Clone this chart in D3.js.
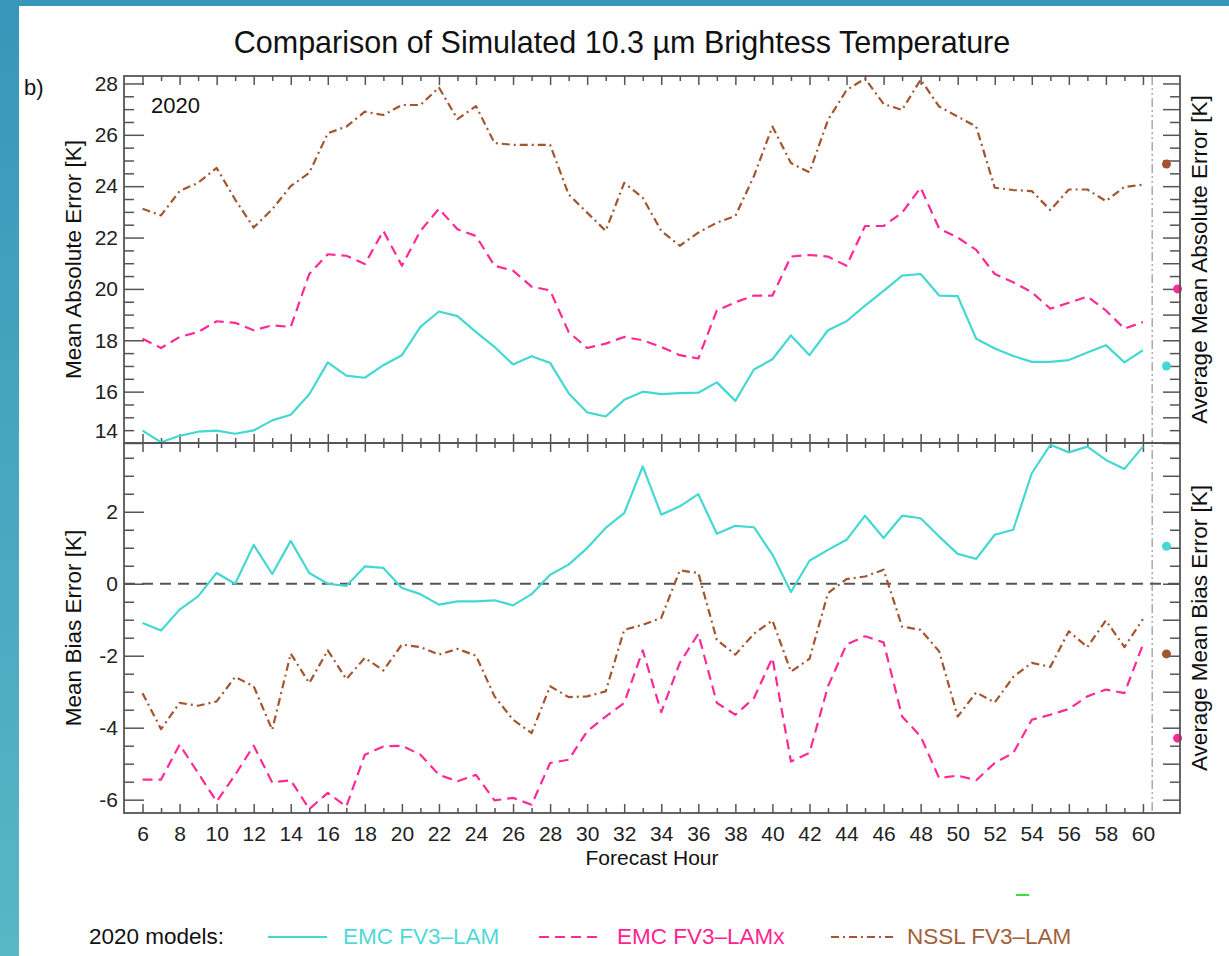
<!DOCTYPE html>
<html>
<head>
<meta charset="utf-8">
<title>Comparison of Simulated 10.3 µm Brightess Temperature</title>
<script src="https://cdn.jsdelivr.net/npm/d3@7"></script>
<style>
  body { margin: 0; background: #fff; }
  svg { display: block; font-family: 'Liberation Sans', Arial, Helvetica, sans-serif; }
</style>
</head>
<body>
<div id="chart"></div>
<script>
'use strict';

// forecast hours on the x axis
var hours = [ 6, 7, 8, 9, 10, 11, 12, 13, 14, 15, 16, 17, 18, 19, 20, 21, 22, 23, 24, 25,
  26, 27, 28, 29, 30, 31, 32, 33, 34, 35, 36, 37, 38, 39, 40, 41, 42, 43, 44, 45,
  46, 47, 48, 49, 50, 51, 52, 53, 54, 55, 56, 57, 58, 59, 60 ];
var hourTicks = [ 6, 8, 10, 12, 14, 16, 18, 20, 22, 24, 26, 28, 30, 32, 34, 36, 38, 40,
  42, 44, 46, 48, 50, 52, 54, 56, 58, 60 ];
var maeTicks = [ 14, 16, 18, 20, 22, 24, 26, 28 ];
var mbeTicks = [ -6, -4, -2, 0, 2 ];

var modelNames = [ 'EMC FV3\u2013LAM', 'EMC FV3\u2013LAMx', 'NSSL FV3\u2013LAM' ];

// mean absolute error [K]
var maeEmc = [ 14.48, 14.03, 14.28, 14.44, 14.48, 14.36, 14.49, 14.88, 15.10, 15.90,
  17.14, 16.62, 16.54, 17.03, 17.42, 18.52, 19.12, 18.94, 18.32, 17.74,
  17.06, 17.38, 17.12, 15.94, 15.19, 15.03, 15.68, 16.00, 15.90, 15.94,
  15.96, 16.36, 15.64, 16.86, 17.26, 18.19, 17.42, 18.39, 18.74, 19.35,
  19.92, 20.52, 20.58, 19.74, 19.72, 18.06, 17.68, 17.39, 17.16, 17.16,
  17.23, 17.52, 17.81, 17.14, 17.61 ];
var maeEmcx = [ 18.06, 17.70, 18.13, 18.32, 18.74, 18.68, 18.39, 18.58, 18.52, 20.58,
  21.35, 21.29, 20.97, 22.26, 20.90, 22.26, 23.12, 22.32, 22.06, 20.90,
  20.71, 20.09, 19.94, 18.32, 17.70, 17.87, 18.13, 18.00, 17.74, 17.42,
  17.29, 19.16, 19.48, 19.74, 19.74, 21.26, 21.32, 21.26, 20.90, 22.45,
  22.45, 22.97, 23.94, 22.35, 22.00, 21.52, 20.58, 20.26, 19.87, 19.23,
  19.46, 19.70, 19.16, 18.45, 18.71 ];
var maeNssl = [ 23.12, 22.86, 23.81, 24.13, 24.71, 23.48, 22.39, 23.10, 24.00, 24.52,
  26.06, 26.32, 26.90, 26.77, 27.16, 27.16, 27.84, 26.61, 27.12, 25.68,
  25.61, 25.61, 25.61, 23.68, 22.97, 22.26, 24.13, 23.55, 22.26, 21.68,
  22.19, 22.58, 22.84, 24.39, 26.32, 24.90, 24.54, 26.58, 27.74, 28.19,
  27.20, 26.97, 28.15, 27.10, 26.71, 26.32, 23.94, 23.85, 23.81, 23.07,
  23.87, 23.87, 23.42, 23.97, 24.06 ];

// mean bias error [K]
var mbeEmc = [ -1.09, -1.30, -0.72, -0.35, 0.30, 0.00, 1.08, 0.27, 1.19, 0.30,
  0.00, -0.06, 0.48, 0.44, -0.12, -0.29, -0.58, -0.49, -0.49, -0.46,
  -0.60, -0.29, 0.25, 0.53, 0.99, 1.55, 1.96, 3.26, 1.92, 2.15,
  2.49, 1.39, 1.61, 1.57, 0.81, -0.23, 0.64, 0.94, 1.22, 1.89,
  1.27, 1.89, 1.82, 1.31, 0.83, 0.69, 1.36, 1.50, 3.07, 3.86,
  3.65, 3.81, 3.44, 3.19, 3.81 ];
var mbeEmcx = [ -5.44, -5.44, -4.47, -5.26, -6.05, -5.31, -4.50, -5.52, -5.46, -6.26,
  -5.81, -6.19, -4.75, -4.52, -4.50, -4.75, -5.31, -5.49, -5.31, -6.02,
  -5.95, -6.14, -4.98, -4.89, -4.10, -3.69, -3.31, -1.85, -3.57, -2.20,
  -1.39, -3.31, -3.64, -3.18, -2.06, -4.94, -4.70, -2.85, -1.69, -1.46,
  -1.63, -3.69, -4.24, -5.40, -5.33, -5.46, -4.98, -4.70, -3.78, -3.64,
  -3.48, -3.13, -2.94, -3.04, -1.69 ];
var mbeNssl = [ -3.04, -4.04, -3.31, -3.39, -3.27, -2.59, -2.85, -4.06, -1.94, -2.76,
  -1.85, -2.65, -2.06, -2.41, -1.69, -1.76, -1.97, -1.81, -2.00, -3.13,
  -3.78, -4.15, -2.85, -3.15, -3.13, -2.99, -1.28, -1.14, -0.95, 0.37,
  0.30, -1.56, -1.97, -1.39, -1.02, -2.44, -2.09, -0.26, 0.13, 0.20,
  0.39, -1.19, -1.28, -1.88, -3.69, -3.02, -3.30, -2.59, -2.20, -2.31,
  -1.32, -1.76, -1.02, -1.76, -0.98 ];

// averages over all forecast hours, shown as dots on the right
var maeAverage = [ 17.0, 20.0, 24.86 ];
var mbeAverage = [ 1.04, -4.29, -1.95 ];

var lineStyles = [
  { color: '#45d8d2', text: '#4fd9d6', dash: null, dotHour: 61.27 },
  { color: '#ff2a95', text: '#ff2590', dash: '10,6', dotHour: 61.87 },
  { color: '#a3552f', text: '#a2603a', dash: '8,4,2,4', dotHour: 61.27 }
];

var W = 1229, H = 956;
var frame = { left: 124, right: 1180, top: 76, mid: 443, bottom: 813 };
var axisColor = '#555';

var svg = d3.select( '#chart' )
  .append( 'svg' )
    .attr( 'width', W )
    .attr( 'height', H );

// page decoration: blue slide edges
var grad = svg.append( 'defs' ).append( 'linearGradient' )
    .attr( 'id', 'edge' )
    .attr( 'x1', 0 ).attr( 'x2', 0 ).attr( 'y1', 0 ).attr( 'y2', 1 );
grad.append( 'stop' ).attr( 'offset', '0%' ).attr( 'stop-color', '#3797ba' );
grad.append( 'stop' ).attr( 'offset', '100%' ).attr( 'stop-color', '#58b6c5' );

svg.append( 'rect' ).attr( 'x', 0 ).attr( 'y', 0 ).attr( 'width', W ).attr( 'height', H ).attr( 'fill', '#fff' );
svg.append( 'rect' ).attr( 'x', 0 ).attr( 'y', 0 ).attr( 'width', W ).attr( 'height', 6 ).attr( 'fill', '#3797ba' );
svg.append( 'rect' ).attr( 'x', 0 ).attr( 'y', 0 ).attr( 'width', 19 ).attr( 'height', H ).attr( 'fill', 'url(#edge)' );

var x = d3.scaleLinear()
    .domain( [ 5, 62 ] )
    .range( [ frame.left, frame.right ] );

var yMae = d3.scaleLinear()
    .domain( [ 14, 28.29 ] )
    .range( [ frame.mid, frame.top ] );

var yMbe = d3.scaleLinear()
    .domain( [ -6.37, 3.91 ] )
    .range( [ frame.bottom, frame.mid ] );

function styleAxis( g ) {
  g.select( '.domain' ).remove();
  g.selectAll( 'line' )
    .attr( 'stroke', axisColor )
    .attr( 'stroke-width', 1.5 );
  g.selectAll( 'text' )
    .attr( 'fill', '#222' )
    .style( 'font-size', '21px' );
  return g;
}

function addAxis( axisFn, scale, values, size, pos, labels, padding ) {
  var axis = axisFn( scale )
    .tickValues( values )
    .tickSizeInner( -size )
    .tickSizeOuter( 0 )
    .tickPadding( padding || 6 )
    .tickFormat( labels ? function( d ) { return String( d ); } : '' );
  var vertical = ( axisFn === d3.axisLeft || axisFn === d3.axisRight );
  var g = svg.append( 'g' )
    .attr( 'transform', vertical ? 'translate(' + pos + ',0)' : 'translate(0,' + pos + ')' )
    .attr( 'font-family', null )
    .call( axis );
  return styleAxis( g );
}

function drawPanel( y, top, bottom, majors, series, averages, showLabels ) {
  var lo = y.domain()[0], hi = y.domain()[1];
  var halfs = d3.range( Math.ceil( lo * 2 ) / 2, hi, 0.5 );
  var minors = halfs.filter( function( d ) {
    return majors.indexOf( d ) < 0;
  } );

  // left axis: major ticks with labels, minor ticks every 0.5
  var left = addAxis( d3.axisLeft, y, majors, 20, frame.left, true, 6 );
  addAxis( d3.axisLeft, y, minors, 10, frame.left, false );

  // right axis: unlabeled ticks
  addAxis( d3.axisRight, y, halfs.filter( function( d ) { return d % 1 === 0; } ), 17, frame.right, false );
  addAxis( d3.axisRight, y, halfs.filter( function( d ) { return d % 1 !== 0; } ), 10, frame.right, false );

  // x ticks along top and bottom of the panel
  var evens = hours.filter( function( h ) { return h % 2 === 0; } ),
      odds = hours.filter( function( h ) { return h % 2 === 1; } );
  addAxis( d3.axisTop, x, evens, 9, top, false );
  addAxis( d3.axisTop, x, odds, 5, top, false );
  addAxis( d3.axisBottom, x, odds, 5, bottom, false );
  if ( showLabels ) {
    addAxis( d3.axisBottom, x, hourTicks, 9, bottom, true, 13 );
  } else {
    addAxis( d3.axisBottom, x, evens, 9, bottom, false );
  }

  var line = d3.line()
      .x( function( d, i ) { return x( hours[i] ); } )
      .y( function( d ) { return y( d ); } );

  series.forEach( function( values, k ) {
    svg.append( 'path' )
      .attr( 'd', line( values ) )
      .attr( 'fill', 'none' )
      .attr( 'stroke', lineStyles[k].color )
      .attr( 'stroke-width', 2.2 )
      .attr( 'stroke-linejoin', 'round' )
      .attr( 'stroke-dasharray', lineStyles[k].dash );
  } );

  averages.forEach( function( v, k ) {
    svg.append( 'circle' )
      .attr( 'cx', x( lineStyles[k].dotHour ) )
      .attr( 'cy', y( v ) )
      .attr( 'r', 4.5 )
      .attr( 'fill', lineStyles[k].color );
  } );

  return left;
}

// vertical separator before the averages column
svg.append( 'line' )
  .attr( 'x1', x( 60.5 ) ).attr( 'x2', x( 60.5 ) )
  .attr( 'y1', frame.top ).attr( 'y2', frame.bottom )
  .attr( 'stroke', '#aaa' )
  .attr( 'stroke-width', 1.5 )
  .attr( 'stroke-dasharray', '9,3,2,3,2,3' );

// zero line of the bias panel
svg.append( 'line' )
  .attr( 'x1', frame.left ).attr( 'x2', frame.right )
  .attr( 'y1', yMbe( 0 ) ).attr( 'y2', yMbe( 0 ) )
  .attr( 'stroke', '#555' )
  .attr( 'stroke-width', 2 )
  .attr( 'stroke-dasharray', '11,7' );

var topLeft = drawPanel( yMae, frame.top, frame.mid, maeTicks,
  [ maeEmc, maeEmcx, maeNssl ], maeAverage, false );
drawPanel( yMbe, frame.mid, frame.bottom, mbeTicks,
  [ mbeEmc, mbeEmcx, mbeNssl ], mbeAverage, true );

// the 14 label sits above the panel corner
topLeft.selectAll( '.tick' )
  .filter( function( d ) { return d === 14; } )
  .select( 'text' )
    .attr( 'dy', '-0.25em' );

// panel frames
[ [ frame.top, frame.mid ], [ frame.mid, frame.bottom ] ].forEach( function( p ) {
  svg.append( 'rect' )
    .attr( 'x', frame.left )
    .attr( 'y', p[0] )
    .attr( 'width', frame.right - frame.left )
    .attr( 'height', p[1] - p[0] )
    .attr( 'fill', 'none' )
    .attr( 'stroke', axisColor )
    .attr( 'stroke-width', 1.8 );
} );

// titles and labels
svg.append( 'text' )
  .attr( 'x', 622 )
  .attr( 'y', 53 )
  .attr( 'text-anchor', 'middle' )
  .style( 'font-size', '30.5px' )
  .attr( 'fill', '#111' )
  .text( 'Comparison of Simulated 10.3 \u00b5m Brightess Temperature' );

svg.append( 'text' )
  .attr( 'x', 24 ).attr( 'y', 95 )
  .style( 'font-size', '22px' )
  .attr( 'fill', '#111' )
  .text( 'b)' );

svg.append( 'text' )
  .attr( 'x', 151 ).attr( 'y', 113 )
  .style( 'font-size', '22px' )
  .attr( 'fill', '#111' )
  .text( '2020' );

function rotatedLabel( px, py, label ) {
  svg.append( 'text' )
    .attr( 'transform', 'translate(' + px + ',' + py + ') rotate(-90)' )
    .attr( 'text-anchor', 'middle' )
    .style( 'font-size', '22.5px' )
    .attr( 'fill', '#111' )
    .text( label );
}

rotatedLabel( 81, ( frame.top + frame.mid ) / 2, 'Mean Absolute Error [K]' );
rotatedLabel( 81, ( frame.mid + frame.bottom ) / 2, 'Mean Bias Error [K]' );
rotatedLabel( 1207, ( frame.top + frame.mid ) / 2, 'Average Mean Absolute Error [K]' );
rotatedLabel( 1207, ( frame.mid + frame.bottom ) / 2, 'Average Mean Bias Error [K]' );

svg.append( 'text' )
  .attr( 'x', ( frame.left + frame.right ) / 2 )
  .attr( 'y', 865 )
  .attr( 'text-anchor', 'middle' )
  .style( 'font-size', '21px' )
  .attr( 'fill', '#111' )
  .text( 'Forecast Hour' );

// stray green mark in the original figure
svg.append( 'line' )
  .attr( 'x1', 1016 ).attr( 'x2', 1029 )
  .attr( 'y1', 895 ).attr( 'y2', 895 )
  .attr( 'stroke', '#3bdc3b' )
  .attr( 'stroke-width', 2 );

// legend
var legendY = 937;
svg.append( 'text' )
  .attr( 'x', 89 ).attr( 'y', legendY + 7 )
  .style( 'font-size', '22.5px' )
  .attr( 'fill', '#111' )
  .text( '2020 models:' );

var legendItems = [
  { x1: 268, x2: 327, tx: 343 },
  { x1: 539, x2: 601, tx: 617 },
  { x1: 831, x2: 893, tx: 907 }
];
legendItems.forEach( function( item, k ) {
  svg.append( 'line' )
    .attr( 'x1', item.x1 ).attr( 'x2', item.x2 )
    .attr( 'y1', legendY ).attr( 'y2', legendY )
    .attr( 'stroke', lineStyles[k].color )
    .attr( 'stroke-width', 2.2 )
    .attr( 'stroke-dasharray', lineStyles[k].dash );
  svg.append( 'text' )
    .attr( 'x', item.tx ).attr( 'y', legendY + 7 )
    .style( 'font-size', '22.5px' )
    .attr( 'fill', lineStyles[k].text )
    .text( modelNames[k] );
} );
</script>
</body>
</html>
